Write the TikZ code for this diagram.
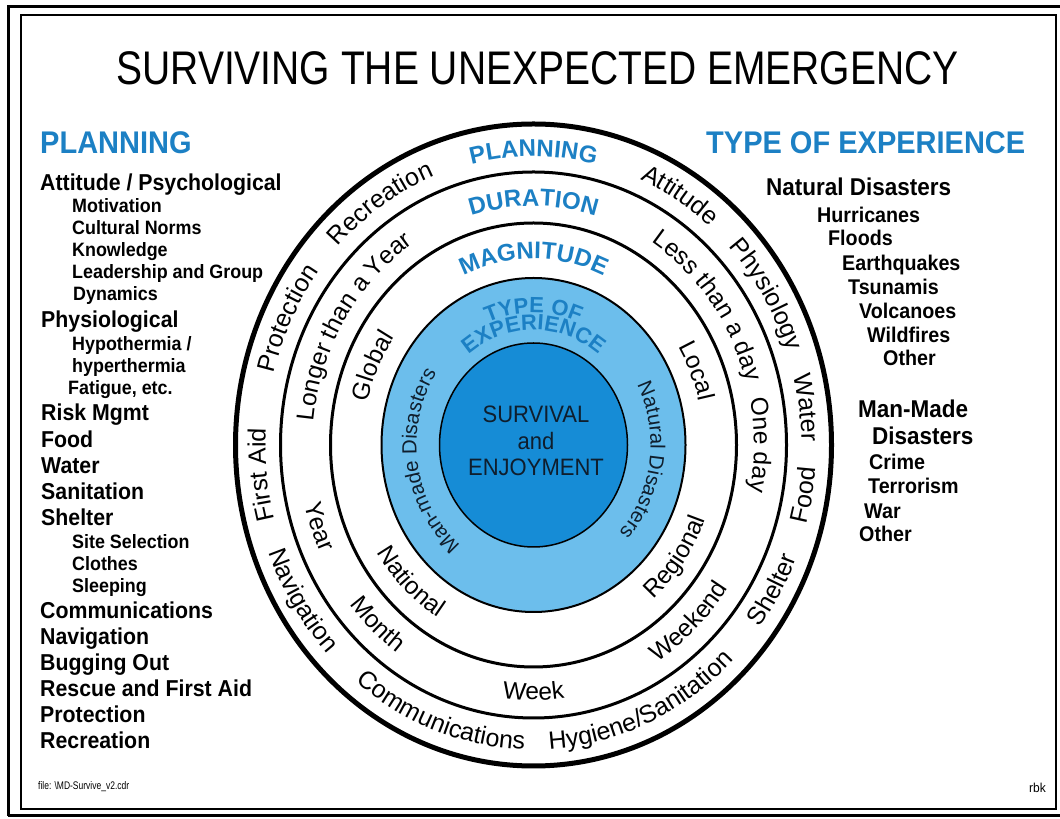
\documentclass[tikz,border=0pt]{standalone}
\usepackage{fontspec}
\setmainfont{Liberation Sans}
\usetikzlibrary{calc,decorations.text}
\definecolor{headblue}{RGB}{28,128,196}
\definecolor{ringblue}{RGB}{108,190,236}
\definecolor{coreblue}{RGB}{22,140,214}
\definecolor{coretext}{RGB}{15,30,45}
\newcommand\bandf{\fontsize{24.5}{24.5}\selectfont}
\newcommand\outf{\fontsize{25}{25}\selectfont}
\newcommand\headf{\bfseries\fontsize{24}{24}\selectfont}
\newcommand\typef{\bfseries\fontsize{22}{22}\selectfont}
\newcommand\disf{\fontsize{20.5}{20.5}\selectfont}
% clockwise text (tops outward): rx, ry, centre angle, half span, colour, font, text
\newcommand\cwtext[7]{\path[decorate,decoration={text along path,text align=center,text color=#5,text={|#6|#7}}]
  ($(C)+({(#1)*cos((#3)+(#4))},{(#2)*sin((#3)+(#4))})$)
  arc[start angle={(#3)+(#4)},end angle={(#3)-(#4)},x radius=#1,y radius=#2];}
% counter-clockwise text (tops inward)
\newcommand\ccwtext[7]{\path[decorate,decoration={text along path,text align=center,text color=#5,text={|#6|#7}}]
  ($(C)+({(#1)*cos((#3)-(#4))},{(#2)*sin((#3)-(#4))})$)
  arc[start angle={(#3)-(#4)},end angle={(#3)+(#4)},x radius=#1,y radius=#2];}
\tikzset{
  txt/.style={inner sep=0pt, yscale=1.08, anchor=base west},
  head/.style={txt, font=\bfseries\fontsize{29}{29}\selectfont, text=headblue},
  lone/.style={txt, font=\bfseries\fontsize{21.3}{21.3}\selectfont},
  ltwo/.style={txt, font=\bfseries\fontsize{17.9}{17.9}\selectfont},
  rone/.style={txt, font=\bfseries\fontsize{22.5}{22.5}\selectfont},
  rtwo/.style={txt, font=\bfseries\fontsize{19.7}{19.7}\selectfont},
  ctr/.style={inner sep=0pt, yscale=1.08, anchor=base, text=coretext, font=\fontsize{22}{22}\selectfont},
  ring/.style={line width=3pt},
}
\begin{document}
\begin{tikzpicture}[x=1pt,y=1pt]
\useasboundingbox (0,0) rectangle (1060,819);
\clip (0,0) rectangle (1060,819);
\fill[white] (0,0) rectangle (1060,819);
% frame
\draw[line width=3pt] (8,3) -- (8,812) -- (1075,812);
\draw[line width=3pt] (8,3) -- (1075,3);
\draw[line width=1.8pt] (21,10) rectangle (1056,804);
\coordinate (C) at (533.5,374);
% rings
\fill[ringblue] (C) ellipse[x radius=152, y radius=167];
\draw[line width=2pt] (C) ellipse[x radius=152, y radius=167];
\fill[coreblue] (C) ellipse[x radius=94, y radius=102];
\draw[line width=1.5pt] (C) ellipse[x radius=94, y radius=102];
\draw[ring] (C) ellipse[x radius=203, y radius=222];
\draw[ring] (C) ellipse[x radius=253, y radius=273];
\draw[line width=5pt] (C) ellipse[x radius=298, y radius=321];
% title
\node[txt, anchor=base, font=\fontsize{39}{39}\selectfont, yscale=1.12] (title) at (537.5,734) {SURVIVING THE UNEXPECTED EMERGENCY};
% left list
\node[head] (lp) at (40,665.5) {PLANNING};
\node[lone] (l1) at (40,628) {Attitude / Psychological};
\node[ltwo] (l2) at (72,606) {Motivation};
\node[ltwo] (l3) at (72,584) {Cultural Norms};
\node[ltwo] (l4) at (72,562) {Knowledge};
\node[ltwo] (l5) at (72,540) {Leadership and Group};
\node[ltwo] (l6) at (73,518) {Dynamics};
\node[lone] (l7) at (41,491) {Physiological};
\node[ltwo] (l8) at (72,468) {Hypothermia /};
\node[ltwo] (l9) at (72,446) {hyperthermia};
\node[ltwo] (l10) at (68,424) {Fatigue, etc.};
\node[lone] (l11) at (41,398) {Risk Mgmt};
\node[lone] (l12) at (41,371) {Food};
\node[lone] (l13) at (41,345) {Water};
\node[lone] (l14) at (41,319) {Sanitation};
\node[lone] (l15) at (41,293) {Shelter};
\node[ltwo] (l16) at (72,270) {Site Selection};
\node[ltwo] (l17) at (72,248) {Clothes};
\node[ltwo] (l18) at (72,226) {Sleeping};
\node[lone] (l19) at (40,200) {Communications};
\node[lone] (l20) at (40,174) {Navigation};
\node[lone] (l21) at (40,148) {Bugging Out};
\node[lone] (l22) at (40,122) {Rescue and First Aid};
\node[lone] (l23) at (40,96) {Protection};
\node[lone] (l24) at (40,70) {Recreation};
% right list
\node[head] (rp) at (706,665) {TYPE OF EXPERIENCE};
\node[rone] (r1) at (766,623) {Natural Disasters};
\node[rtwo] (r2) at (817,596) {Hurricanes};
\node[rtwo] (r3) at (828,573) {Floods};
\node[rtwo] (r4) at (842,548) {Earthquakes};
\node[rtwo] (r5) at (848,524) {Tsunamis};
\node[rtwo] (r6) at (859,500) {Volcanoes};
\node[rtwo] (r7) at (867,476) {Wildfires};
\node[rtwo] (r8) at (883,453) {Other};
\node[rone] (r9) at (858,401) {Man-Made};
\node[rone] (r10) at (872,374) {Disasters};
\node[rtwo] (r11) at (869,349) {Crime};
\node[rtwo] (r12) at (868,325) {Terrorism};
\node[rtwo] (r13) at (864,300) {War};
\node[rtwo] (r14) at (859,277) {Other};
% centre
\node[ctr] (c1) at (536,396.5) {SURVIVAL};
\node[ctr] (c2) at (536,369.5) {and};
\node[ctr] (c3) at (536,343.5) {ENJOYMENT};
% footer
\node[txt, font=\fontsize{8.5}{8.5}\selectfont, yscale=1.2] (file) at (38,29) {file: \textbackslash MD-Survive\_v2.cdr};
\node[txt, anchor=base east, font=\fontsize{12}{12}\selectfont] (rbk) at (1046,26) {rbk};
% outer band
\cwtext{267}{288.5}{90}{40}{headblue}{\headf}{PLANNING}
\cwtext{268}{289.5}{123.5}{40}{black}{\outf}{Recreation}
\cwtext{268}{289.5}{153.8}{40}{black}{\outf}{Protection}
\cwtext{268}{289.5}{186}{40}{black}{\outf}{First Aid}
\ccwtext{283}{304.5}{212.6}{40}{black}{\outf}{Navigation}
\ccwtext{283}{304.5}{250}{40}{black}{\outf}{Communications}
\ccwtext{283}{304.5}{293.7}{40}{black}{\outf}{Hygiene/Sanitation}
\ccwtext{283}{304.5}{330}{40}{black}{\outf}{Shelter}
\ccwtext{283}{304.5}{350}{40}{black}{\outf}{Food}
\cwtext{268}{289.5}{7.5}{40}{black}{\outf}{Water}
\cwtext{268}{289.5}{31.7}{40}{black}{\outf}{Physiology}
\cwtext{268}{289.5}{58.5}{40}{black}{\outf}{Attitude}
% duration band
\cwtext{219.5}{239}{90}{40}{headblue}{\headf}{DURATION}
\cwtext{220.5}{240}{148}{45}{black}{\bandf}{Longer than a Year}
\ccwtext{235.5}{255}{199.8}{40}{black}{\bandf}{Year}
\ccwtext{235.5}{255}{227.5}{40}{black}{\bandf}{Month}
\ccwtext{235.5}{255}{270}{40}{black}{\bandf}{Week}
\ccwtext{235.5}{255}{312.9}{40}{black}{\bandf}{Weekend}
\cwtext{220.5}{240}{0}{40}{black}{\bandf}{One day}
\cwtext{220.5}{240}{37.3}{45}{black}{\bandf}{Less than a day}
% magnitude band
\cwtext{169}{186}{90}{45}{headblue}{\headf}{MAGNITUDE}
\cwtext{170}{187}{155}{40}{black}{\bandf}{Global}
\ccwtext{185}{202}{226.4}{40}{black}{\bandf}{National}
\ccwtext{185}{202}{323.5}{40}{black}{\bandf}{Regional}
\cwtext{170}{187}{23.3}{40}{black}{\bandf}{Local}
% type of experience ring
\cwtext{121}{132}{90}{60}{headblue}{\typef}{TYPE OF}
\cwtext{105}{115}{90}{65}{headblue}{\typef}{EXPERIENCE}
\cwtext{117}{128.5}{189}{65}{coretext}{\disf}{Man-made Disasters}
\cwtext{117}{128.5}{352}{65}{coretext}{\disf}{Natural Disasters}
\end{tikzpicture}
\end{document}
